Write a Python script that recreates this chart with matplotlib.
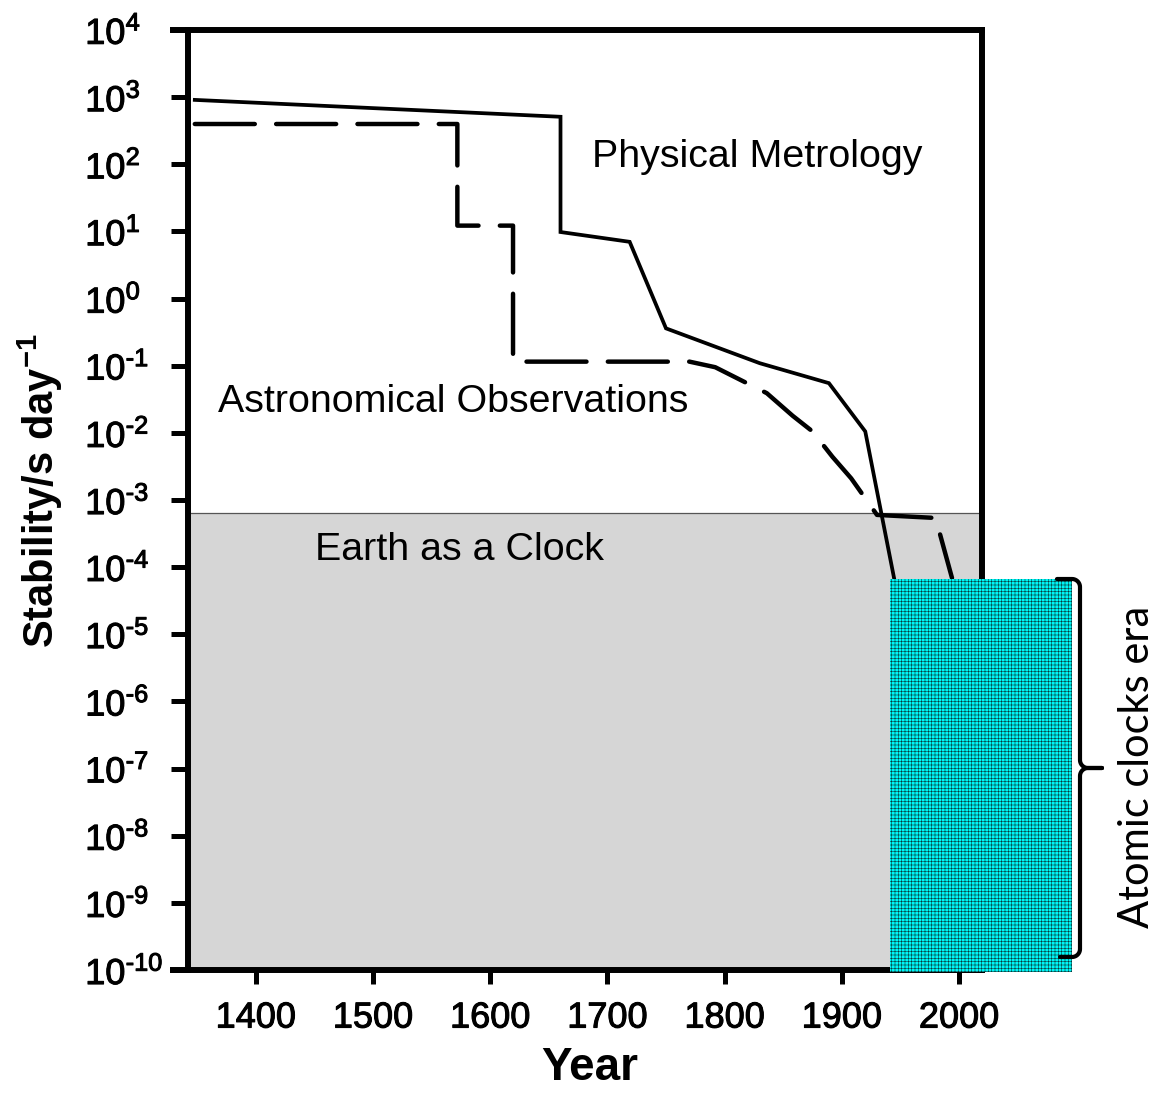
import numpy as np
import matplotlib
matplotlib.use("Agg")
import matplotlib.pyplot as plt
import matplotlib.patheffects as pe
from matplotlib.patches import Rectangle
from matplotlib.lines import Line2D

plt.rcParams['font.family'] = ['Liberation Sans', 'DejaVu Sans']
plt.rcParams['mathtext.fontset'] = 'custom'
plt.rcParams['mathtext.rm'] = 'Liberation Sans'
plt.rcParams['mathtext.it'] = 'Liberation Sans:italic'
plt.rcParams['mathtext.bf'] = 'Liberation Sans:bold'
plt.rcParams['hatch.linewidth'] = 0.4

# ---- data ----
phys_years = [1348, 1660, 1660, 1719, 1750, 1830, 1889, 1920, 1945]
phys_vals = [9.1e2, 5.1e2, 9.8, 7.0, 0.36, 0.109, 0.055, 0.0105, 6.3e-5]

astro_years = [1348, 1572, 1572, 1619.5, 1619.5, 1770, 1792, 1836, 1858, 1875, 1892, 1908, 1930, 1980, 1994]
astro_vals = [398, 398, 12.2, 12.2, 0.115, 0.115, 0.095, 0.039, 0.018, 0.0105, 0.0044, 0.0021, 6.0e-4, 5.4e-4, 6.9e-5]

earth_top = 6.4e-4
atomic_x = [1941, 2096]
atomic_y = [10 ** -10.03, 6.6e-5]

xticks = [1400, 1500, 1600, 1700, 1800, 1900, 2000]
yexps = list(range(-10, 5))

W, H = 1162, 1094
fig = plt.figure(figsize=(W / 100, H / 100), dpi=100)
L, R, B, T = 188, 982, 970, 30
ax = fig.add_axes([L / W, 1 - B / H, (R - L) / W, (B - T) / H])
ax.set_yscale('log')
ax.set_xlim(1342.2, 2019.6)
ax.set_ylim(1e-10, 1e4)

# shaded earth region
ax.axhspan(1e-10, earth_top, color='#d6d6d6', zorder=0, lw=0)
ax.axhline(earth_top, color='#555555', lw=0.9, zorder=0.5)

ax.plot(phys_years, phys_vals, color='black', lw=2.7, solid_joinstyle='miter', zorder=3)
ax.plot(astro_years, astro_vals, color='black', lw=3.2, dashes=(13.5, 4.8),
        dash_capstyle='round', zorder=3)

# atomic clocks era box
rect = Rectangle((atomic_x[0], atomic_y[0]), atomic_x[1] - atomic_x[0], atomic_y[1] - atomic_y[0],
                 facecolor='#00f4f4', edgecolor='#083838', hatch='+++++', lw=0,
                 clip_on=False, zorder=6)
ax.add_patch(rect)

# spines & ticks
for s in ax.spines.values():
    s.set_linewidth(4.3)
ax.tick_params(axis='both', direction='out', width=3.6, color='black')
ax.tick_params(axis='y', length=12, pad=62, labelsize=26)
ax.tick_params(axis='x', length=10, pad=12, labelsize=26)
ax.minorticks_off()

def ylab(e):
    if e < 0:
        return r'$10^{\text{-}%d}$' % (-e)
    return r'$10^{%d}$' % e

ax.set_yticks([10.0 ** e for e in yexps], [ylab(e) for e in yexps])
ax.set_xticks(xticks, [str(x) for x in xticks])
ax.yaxis.set_minor_locator(matplotlib.ticker.NullLocator())
heavy = [pe.withStroke(linewidth=0.75, foreground='black')]
for lbl in ax.get_yticklabels():
    lbl.set_horizontalalignment('left')
    lbl.set_path_effects(heavy)
for lbl in ax.get_xticklabels():
    lbl.set_path_effects(heavy)

# spine extensions (top and bottom extend left over tick area)
ext = 18 / (R - L)
for yy in (0, 1):
    ax.add_line(Line2D([-ext, 0], [yy, yy], transform=ax.transAxes, color='black',
                       lw=4.3, clip_on=False, solid_capstyle='butt'))

# text annotations
ax.text(1686.6, 10 ** 1.964, 'Physical Metrology', fontsize=28.4, va='baseline', ha='left')
ax.text(1367.8, 10 ** -1.69, 'Astronomical Observations', fontsize=28.4, va='baseline', ha='left')
ax.text(1450.7, 10 ** -3.894, 'Earth as a Clock', fontsize=28.4, va='baseline', ha='left')

# brace (pixel geometry -> axes fraction)
def px2ax(px, py):
    return (np.asarray(px) - L) / (R - L), (B - np.asarray(py)) / (B - T)

def arc(cx, cy, r, a0, a1, n=12):
    a = np.linspace(np.radians(a0), np.radians(a1), n)
    return cx + r * np.cos(a), cy - r * np.sin(a)

xs, ys = [1057], [579]
ax1, ay1 = arc(1072, 587, 8, 90, 0)
xs += list(ax1); ys += list(ay1)
xs += [1080]; ys += [760]
ax2, ay2 = arc(1088, 760, 8, 180, 270)
xs += list(ax2); ys += list(ay2)
xs += [1102]; ys += [768]
xs += [1088]; ys += [768]
ax3, ay3 = arc(1088, 776, 8, 90, 180)
xs += list(ax3); ys += list(ay3)
xs += [1080]; ys += [949]
ax4, ay4 = arc(1072, 949, 8, 0, -90)
xs += list(ax4); ys += list(ay4)
xs += [1060]; ys += [957]
bx, by = px2ax(xs, ys)
ax.add_line(Line2D(bx, by, transform=ax.transAxes, color='black', lw=3.0,
                   clip_on=False, solid_joinstyle='round', solid_capstyle='round', zorder=7))

tx, ty = px2ax(1137, 767)
ax.text(tx, ty, 'Atomic clocks era', transform=ax.transAxes, rotation=90,
        ha='center', va='center', fontsize=30, family=['Lato', 'DejaVu Sans'], clip_on=False)

fig.text(40 / W, 1 - 491 / H, r'Stability/s day$^{\mathbf{-1}}$', rotation=90, ha='center', va='center',
         fontsize=30, fontweight='bold')
fig.text(590 / W, 1 - 1068 / H, 'Year', ha='center', va='center', fontsize=33, fontweight='bold')

fig.savefig('out.png', dpi=100)
